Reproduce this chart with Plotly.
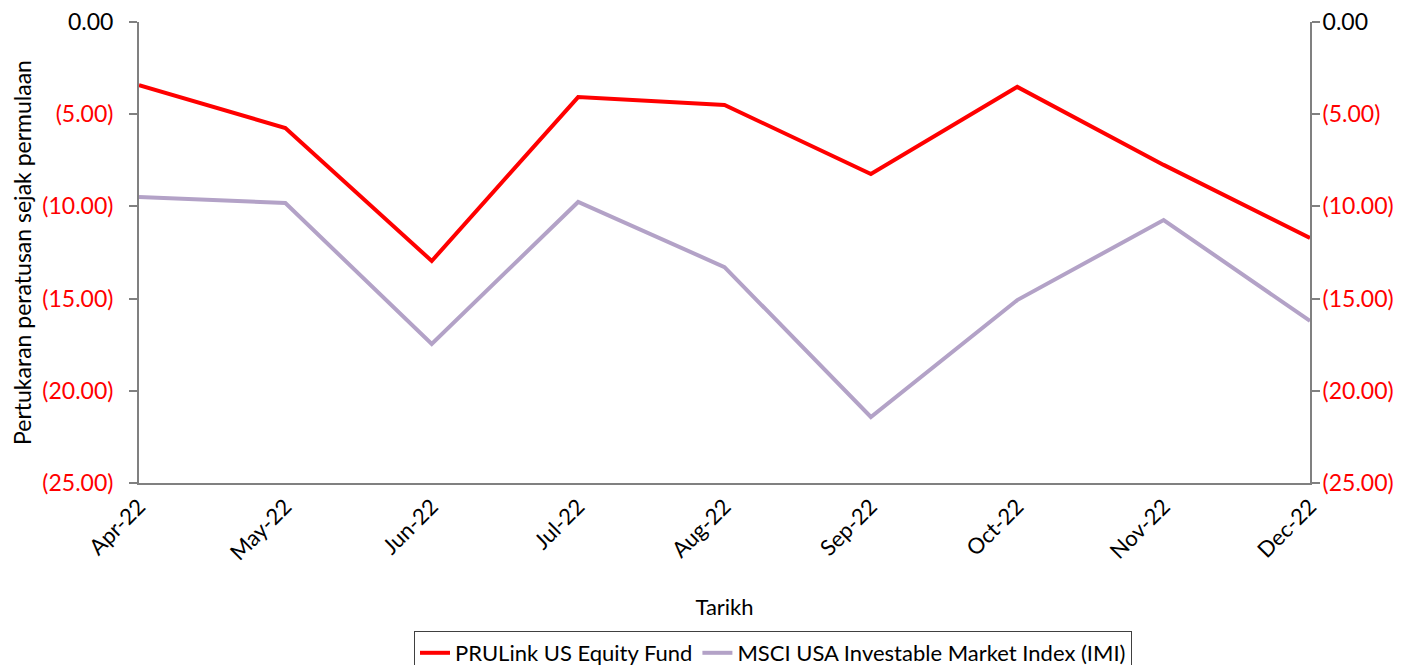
import plotly.graph_objects as go

months = ["Apr-22", "May-22", "Jun-22", "Jul-22", "Aug-22", "Sep-22", "Oct-22", "Nov-22", "Dec-22"]
prulink = [-3.42, -5.75, -12.96, -4.07, -4.50, -8.24, -3.52, -7.75, -11.71]
msci = [-9.49, -9.82, -17.46, -9.76, -13.29, -21.42, -15.08, -10.74, -16.21]
tick_vals = [0, -5, -10, -15, -20, -25]
tick_text = ["0.00", "(5.00)", "(10.00)", "(15.00)", "(20.00)", "(25.00)"]

def colored(t):
    if t.startswith("("):
        return "<span style='color:#FF0000'>" + t + "</span>"
    return t

ticks = [colored(t) for t in tick_text]
FONT = "Lato, Open Sans, sans-serif"

fig = go.Figure()
fig.add_trace(go.Scatter(x=months, y=prulink, mode="lines", name="PRULink US Equity Fund",
                         line=dict(color="#FF0000", width=4)))
fig.add_trace(go.Scatter(x=months, y=msci, mode="lines", name="MSCI USA Investable Market Index (IMI)",
                         line=dict(color="#B3A2C7", width=4), yaxis="y2"))

yax = dict(range=[-25, 0], tickvals=tick_vals, ticktext=ticks, showgrid=False, zeroline=False,
           showline=True, linecolor="#808080", linewidth=2, ticks="outside", ticklen=8,
           tickcolor="#808080", tickwidth=1.5, automargin=False, ticklabeloverflow="allow",
           tickfont=dict(size=23, color="black", family=FONT))

# page body has an 8px margin, so the figure is drawn 8px smaller and offset
W, H = 1399, 657
fig.update_layout(
    width=W, height=H,
    margin=dict(l=131, r=97, t=14, b=182),
    paper_bgcolor="white", plot_bgcolor="white",
    font=dict(family=FONT, color="black"),
    xaxis=dict(showgrid=False, zeroline=False, showline=True, linecolor="#808080", linewidth=2,
               ticks="", tickangle=-45, tickfont=dict(size=22, family=FONT), automargin=False,
               title=dict(text="Tarikh", font=dict(size=22), standoff=35),
               range=[0, 8]),
    yaxis=dict(**yax, ticklabelstandoff=11,
               title=dict(text="Pertukaran peratusan sejak permulaan", font=dict(size=23), standoff=14)),
    yaxis2=dict(**yax, ticklabelstandoff=-2, overlaying="y", side="right"),
    showlegend=True,
    legend=dict(orientation="h", x=(773 - 8) / W, xanchor="center", xref="container",
                y=1 - (631 - 8) / H, yanchor="top", yref="container",
                bordercolor="#404040", borderwidth=1, font=dict(size=22, family=FONT),
                tracegroupgap=0),
)

fig.write_html("out.html")
